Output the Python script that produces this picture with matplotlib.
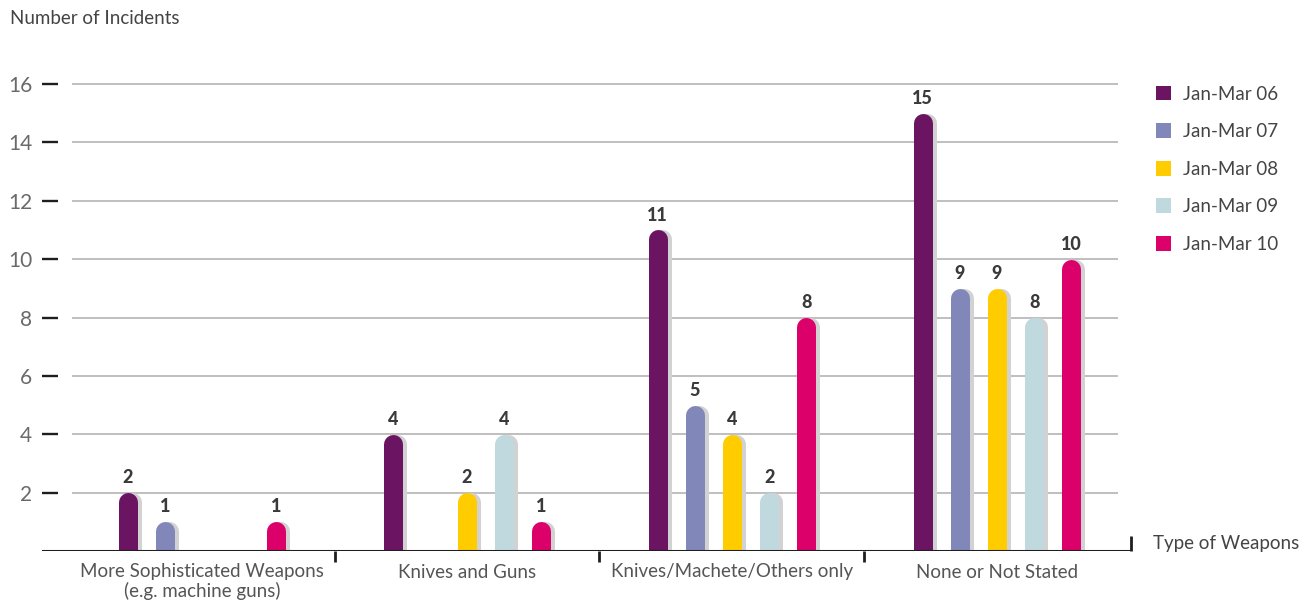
import numpy as np
import matplotlib
matplotlib.use("Agg")
import matplotlib.pyplot as plt
from matplotlib.patches import Patch

plt.rcParams['font.family'] = ['Lato', 'DejaVu Sans']

categories = ['More Sophisticated Weapons\n(e.g. machine guns)', 'Knives and Guns',
              'Knives/Machete/Others only', 'None or Not Stated']
series = ['Jan-Mar 06', 'Jan-Mar 07', 'Jan-Mar 08', 'Jan-Mar 09', 'Jan-Mar 10']
jan_mar_06 = [2, 4, 11, 15]
jan_mar_07 = [1, 0, 5, 9]
jan_mar_08 = [0, 2, 4, 9]
jan_mar_09 = [0, 4, 2, 8]
jan_mar_10 = [1, 1, 8, 10]
colors = ['#6a1462', '#8188b9', '#ffcc00', '#c0d9df', '#dc006a']
yticks = [2, 4, 6, 8, 10, 12, 14, 16]

values = [jan_mar_06, jan_mar_07, jan_mar_08, jan_mar_09, jan_mar_10]

W, H = 1313, 606
fig = plt.figure(figsize=(W / 100, H / 100), dpi=100)
ppu = 467 / 16          # pixels per y unit
ytop = 17.5
ax = fig.add_axes([42 / W, 55 / H, (1131 - 42) / W, ytop * ppu / H])
ax.set_xlim(-0.6038, 3.5057)
ax.set_ylim(0, ytop)
for s in ax.spines.values():
    s.set_visible(False)

# gridlines
ax.hlines(yticks, -0.49, 3.457, color='#b4b4b4', lw=1.2, zorder=0)

step = 0.14
lw_pt = 19 * 0.72
cap = 9.5 / ppu
shadow_dx = 4 / 265
x = np.arange(len(categories))
for k, (vals, c) in enumerate(zip(values, colors)):
    for xi, v in zip(x, vals):
        if v == 0:
            continue
        xb = xi + (k - 2) * step
        ax.plot([xb + shadow_dx, xb + shadow_dx], [-1, v - cap], color='#d2d2d2',
                lw=lw_pt, solid_capstyle='round', zorder=2)
        ax.plot([xb, xb], [-1, v - cap], color=c, lw=lw_pt,
                solid_capstyle='round', zorder=3)
        ax.text(xb, v + 0.22, str(v), ha='center', va='bottom', fontsize=13,
                fontweight='black', color='#3a3a3a')

# baseline and separators
ax.axhline(0, color='#1e1e1e', lw=2.2, zorder=4)
ax.vlines([0.5, 1.5, 2.5], -0.36, 0, color='#1e1e1e', lw=2, clip_on=False)
ax.vlines([3.5045], 0, 0.5, color='#1e1e1e', lw=2, clip_on=False)

ax.set_yticks(yticks)
ax.set_yticklabels([str(t) for t in yticks], fontsize=15, fontweight='normal', color='#6a6a6a')
ax.tick_params(axis='y', direction='in', length=11.5, width=1.7, color='#1e1e1e', pad=7)
ax.set_xticks(x)
ax.set_xticklabels(categories, fontsize=13.5, color='#555555', linespacing=1.1)
for lab in ax.get_xticklabels():
    lab.set_multialignment('center')
ax.tick_params(axis='x', length=0, pad=9)

fig.text(10 / W, 1 - 18 / H, 'Number of Incidents', fontsize=13.5, color='#444444',
         va='center', ha='left')
fig.text(1153 / W, 1 - 543 / H, 'Type of Weapons', fontsize=13.5, color='#444444',
         va='center', ha='left')

handles = [Patch(facecolor=c, edgecolor='none') for c in colors]
leg = fig.legend(handles, series, loc='upper left', bbox_to_anchor=(1148 / W, 1 - 78 / H),
                 frameon=False, fontsize=13.5, handlelength=0.85, handleheight=0.85,
                 handletextpad=0.6, labelspacing=1.1, borderaxespad=0)
for t in leg.get_texts():
    t.set_color('#444444')

fig.savefig('out.png', dpi=100)
